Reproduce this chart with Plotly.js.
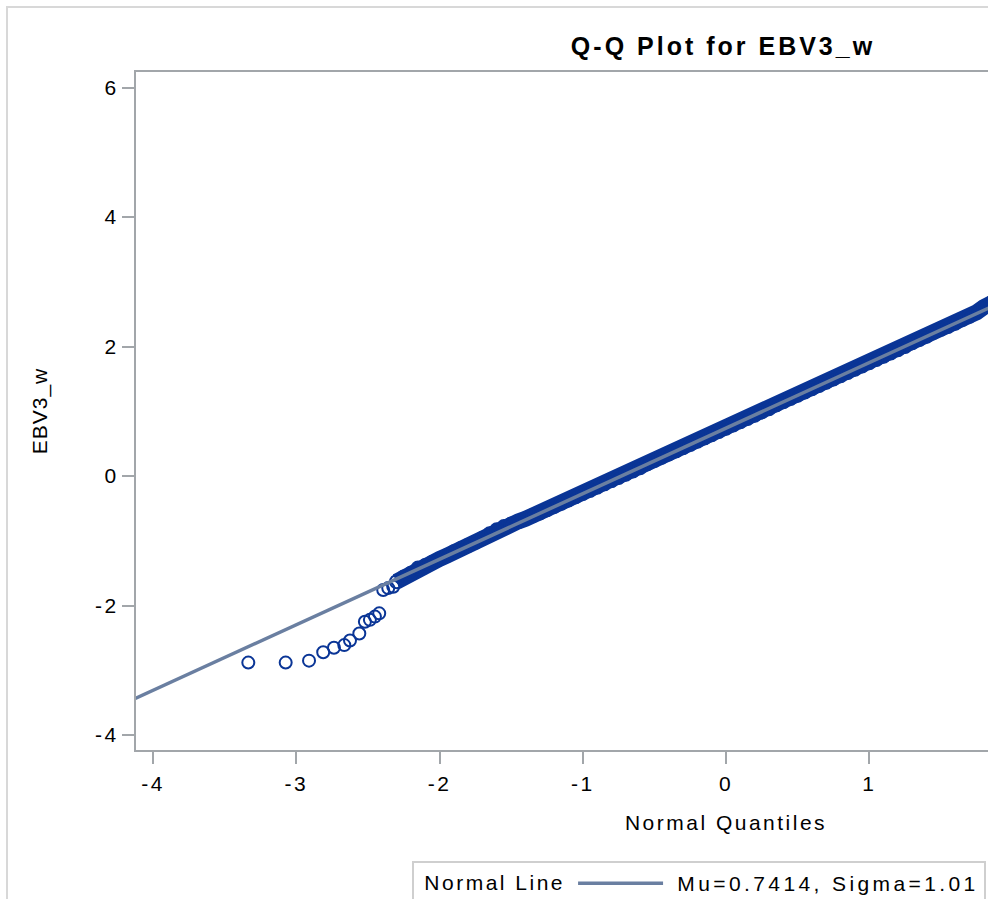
<!DOCTYPE html>
<html>
<head>
<meta charset="utf-8">
<script src="https://cdn.plot.ly/plotly-3.0.1.min.js"></script>
<style>
  html, body { margin: 0; padding: 0; background: #ffffff; overflow: hidden; }
  #clip { position: absolute; left: 0; top: 0; width: 988px; height: 899px; overflow: hidden; background: #ffffff; }
  #chart { position: absolute; left: 0; top: 0; width: 1430px; height: 960px; }
  #frame { position: absolute; left: 6px; top: 6px; width: 2000px; height: 2000px;
           border-left: 2px solid #d8d8d8; border-top: 2px solid #d8d8d8; pointer-events: none; }
  svg text { letter-spacing: 2.5px; }
  .gtitle { letter-spacing: 3px !important; }
  .ytitle { letter-spacing: 1px !important; }
  .legendtext { letter-spacing: 3.4px !important; }
</style>
</head>
<body>
<div id="clip">
  <div id="chart"></div>
  <div id="frame"></div>
</div>
<script>
// ---- data ----
// dense central band of the Q-Q plot (normal quantile, observed EBV3_w)
const bandX = [-2.30,-2.25,-2.20,-2.15,-2.10,-2.05,-2.00,-1.95,-1.90,-1.85,-1.80,-1.75,-1.70,-1.65,-1.60,-1.55,-1.50,-1.45,-1.40,-1.35,-1.30,-1.25,-1.20,-1.15,-1.10,-1.05,-1.00,-0.95,-0.90,-0.85,-0.80,-0.75,-0.70,-0.65,-0.60,-0.55,-0.50,-0.45,-0.40,-0.35,-0.30,-0.25,-0.20,-0.15,-0.10,-0.05,0.00,0.05,0.10,0.15,0.20,0.25,0.30,0.35,0.40,0.45,0.50,0.55,0.60,0.65,0.70,0.75,0.80,0.85,0.90,0.95,1.00,1.05,1.10,1.15,1.20,1.25,1.30,1.35,1.40,1.45,1.50,1.55,1.60,1.65,1.70,1.75,1.80,1.85,1.90];
const bandY = [-1.63,-1.56,-1.50,-1.42,-1.38,-1.33,-1.28,-1.23,-1.17,-1.12,-1.07,-1.02,-0.96,-0.89,-0.83,-0.78,-0.74,-0.70,-0.66,-0.61,-0.57,-0.52,-0.47,-0.42,-0.37,-0.32,-0.27,-0.22,-0.17,-0.12,-0.07,-0.02,0.03,0.08,0.13,0.19,0.24,0.29,0.34,0.39,0.44,0.49,0.54,0.59,0.64,0.69,0.74,0.79,0.84,0.89,0.94,0.99,1.04,1.10,1.15,1.20,1.25,1.30,1.35,1.40,1.45,1.50,1.55,1.60,1.65,1.70,1.75,1.80,1.85,1.90,1.95,2.00,2.06,2.11,2.16,2.22,2.27,2.31,2.36,2.42,2.47,2.53,2.61,2.67,2.72];
// separated lower-tail observations
const tailX = [-3.335,-3.074,-2.911,-2.812,-2.737,-2.665,-2.625,-2.560,-2.521,-2.486,-2.451,-2.421,-2.393,-2.358,-2.323];
const tailY = [-2.88,-2.88,-2.85,-2.72,-2.65,-2.61,-2.54,-2.43,-2.25,-2.22,-2.17,-2.12,-1.76,-1.73,-1.71];
// fitted normal reference line (Mu=0.7414, Sigma=1.01) end points
const normalLineX = [-4.2, 4.2];
const normalLineY = [-3.51, 4.99];
const legendTitle = '\u00a0Normal Line';
const normalLineLabel = '\u00a0Mu=0.7414, Sigma=1.01';
const yTitle = 'EBV3_w\u00a0\u00a0';
// axis ticks (visible part of the axes)
const xTickVals = [-4,-3,-2,-1,0,1];
const xTickText = ['-4','-3','-2','-1','0','1'];
const yTickVals = [-4,-2,0,2,4,6];
const yTickText = ['-4','-2','0','2','4','6'];

const dataBlue = '#0a3596';
const lineCol = '#6a7fa1';
const axisCol = '#a2a6aa';
const FONT = '"Liberation Sans", Arial, sans-serif';

const traces = [
  { x: bandX, y: bandY, type: 'scatter', mode: 'lines+markers', showlegend: false,
    line: { color: dataBlue, width: 16 },
    marker: { symbol: 'circle-open', size: 13, color: dataBlue, line: { width: 2, color: dataBlue } } },
  { x: tailX, y: tailY, type: 'scatter', mode: 'markers', showlegend: false,
    marker: { symbol: 'circle-open', size: 12, color: dataBlue, line: { width: 2, color: dataBlue } } },
  { x: normalLineX, y: normalLineY, type: 'scatter', mode: 'lines', name: normalLineLabel,
    line: { color: lineCol, width: 3.5 } }
];

const layout = {
  width: 1430, height: 960,
  margin: { l: 136, r: 114, t: 72, b: 210 },
  paper_bgcolor: '#ffffff', plot_bgcolor: '#ffffff',
  font: { family: FONT, size: 21, color: '#000000' },
  title: { text: 'Q-Q Plot for EBV3_w', font: { family: FONT, size: 25, weight: 'bold', color: '#000000' },
           xref: 'container', x: 723/1430, xanchor: 'center', yref: 'container', y: 1 - 46/960, yanchor: 'middle' },
  xaxis: {
    range: [-4.119, 4.119], tickvals: xTickVals, ticktext: xTickText,
    showgrid: false, zeroline: false, showline: true, mirror: true,
    linecolor: axisCol, linewidth: 2, ticks: 'outside', ticklen: 12, tickwidth: 2, tickcolor: axisCol,
    ticklabelstandoff: 2, tickfont: { family: FONT, size: 21, color: '#000' },
    title: { text: 'Normal Quantiles', font: { family: FONT, size: 21, color: '#000' }, standoff: 21 }
  },
  yaxis: {
    range: [-4.23, 6.24], tickvals: yTickVals, ticktext: yTickText,
    showgrid: false, zeroline: false, showline: true, mirror: true,
    linecolor: axisCol, linewidth: 2, ticks: 'outside', ticklen: 12, tickwidth: 2, tickcolor: axisCol,
    ticklabelstandoff: -1, tickfont: { family: FONT, size: 21, color: '#000' },
    title: { text: yTitle, font: { family: FONT, size: 21, color: '#000' }, standoff: 42 }
  },
  showlegend: true,
  legend: {
    x: (412 - 136) / 1180, y: -(861 - 750) / 678, xanchor: 'left', yanchor: 'top',
    orientation: 'h', bgcolor: '#ffffff', bordercolor: '#cfcfcf', borderwidth: 2,
    font: { family: FONT, size: 21, color: '#000' }, itemwidth: 85,
    title: { text: legendTitle, side: 'left', font: { family: FONT, size: 21, color: '#000' } }
  }
};

Plotly.newPlot('chart', traces, layout, { staticPlot: true, displayModeBar: false });
</script>
</body>
</html>
